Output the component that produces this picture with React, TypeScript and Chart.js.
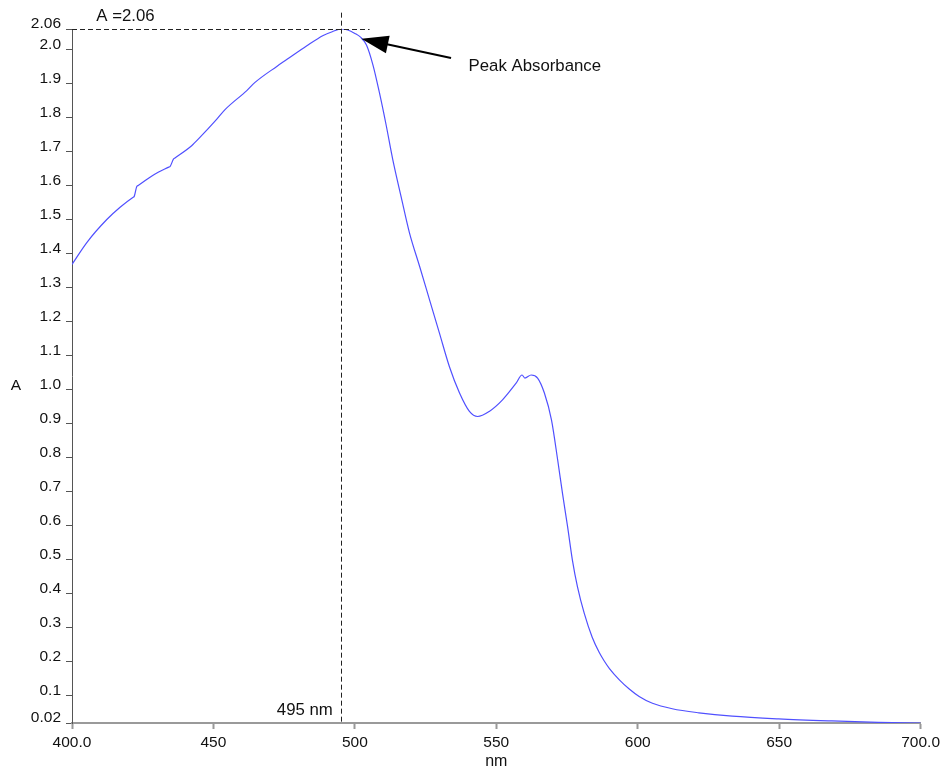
import React, { useEffect, useRef } from "react";
import { Chart, registerables } from "chart.js";

Chart.register(...registerables);

// Wavelength (nm) and absorbance (A)
const wavelengths = [
  400, 405.3, 412.3, 417.0, 421.5, 422.0, 422.9, 423.4, 428.8, 434.2, 434.7, 435.9, 436.4, 442.3, 445.3, 451.2, 454.1,
  461.8, 464.7, 472.4, 475.9, 482.9, 488.8, 492, 495.2,
  497.5, 500, 502, 504.1, 506.4, 508.7, 511, 513.4, 516.4, 519.3, 522.9, 526.4, 529.9,
  533.4, 537.0, 540.5, 543.4, 547.5, 552.2, 557.0, 559.1, 560.1, 562.3, 564.6, 567.0,
  569.5, 571.7, 573.4, 575.2, 576.9, 578.7, 581.1, 583.9, 586.4, 588.1, 590.0, 593.5, 597.0,
  600.5, 605.2, 612.2, 621.6, 633.4, 649.8, 668.6, 685, 700,
];
const absorbance = [
  1.368, 1.433, 1.500, 1.536, 1.565, 1.568, 1.597, 1.600, 1.631, 1.654, 1.656, 1.678, 1.681, 1.717, 1.742, 1.795, 1.823,
  1.879, 1.903, 1.950, 1.970, 2.010, 2.041, 2.052, 2.060,
  2.057, 2.047, 2.036, 2.013, 1.954, 1.872, 1.780, 1.676, 1.565, 1.461, 1.362, 1.264, 1.166,
  1.068, 0.990, 0.936, 0.921, 0.936, 0.970, 1.019, 1.043, 1.034, 1.043, 1.034, 0.990,
  0.911, 0.793, 0.695, 0.597, 0.499, 0.420, 0.342, 0.272, 0.227, 0.203, 0.180, 0.147, 0.120,
  0.098, 0.078, 0.062, 0.050, 0.040, 0.032, 0.026, 0.022, 0.020,
];

const xTicks = [400, 450, 500, 550, 600, 650, 700];
const xTickLabels = ["400.0", "450", "500", "550", "600", "650", "700.0"];
const yTicks = [0.02, 0.1, 0.2, 0.3, 0.4, 0.5, 0.6, 0.7, 0.8, 0.9, 1.0, 1.1, 1.2, 1.3, 1.4, 1.5, 1.6, 1.7, 1.8, 1.9, 2.0, 2.06];
const yTickLabels = ["0.02", "0.1", "0.2", "0.3", "0.4", "0.5", "0.6", "0.7", "0.8", "0.9", "1.0", "1.1", "1.2", "1.3", "1.4", "1.5", "1.6", "1.7", "1.8", "1.9", "2.0", "2.06"];

const peakNm = 495;
const peakA = 2.06;

const FONT = "'Liberation Sans', Arial, Helvetica, sans-serif";
const FS = 15.5;
const FS_NOTE = 16.8;

const annotationPlugin = {
  id: "annotations",
  afterDatasetsDraw(chart: any) {
    const ctx = chart.ctx as CanvasRenderingContext2D;
    const xs = chart.scales.x;
    const ys = chart.scales.y;
    const X = (v: number) => xs.getPixelForValue(v);
    const Y = (v: number) => ys.getPixelForValue(v);
    ctx.save();
    // dashed guides
    ctx.setLineDash([5, 3]);
    ctx.strokeStyle = "#222";
    ctx.lineWidth = 1;
    ctx.beginPath();
    ctx.moveTo(Math.round(X(peakNm)) + 0.5, Y(2.108));
    ctx.lineTo(Math.round(X(peakNm)) + 0.5, Y(0.02));
    ctx.stroke();
    ctx.beginPath();
    ctx.moveTo(chart.chartArea.left, Math.round(Y(peakA)) + 0.5);
    ctx.lineTo(X(505.2), Math.round(Y(peakA)) + 0.5);
    ctx.stroke();
    ctx.setLineDash([]);

    // texts
    ctx.fillStyle = "#111";
    ctx.font = `${FS_NOTE}px ${FONT}`;
    ctx.textBaseline = "middle";
    ctx.textAlign = "left";
    ctx.fillText("A =2.06", X(408.6), Y(2.097));
    ctx.textAlign = "right";
    ctx.fillText("495 nm", X(492.2), Y(0.057));
    ctx.textAlign = "left";
    ctx.fillText("Peak Absorbance", X(540.2), Y(1.95));
    ctx.font = `${FS}px ${FONT}`;
    ctx.textAlign = "center";
    ctx.fillText("A", 16, Y(1.0) - 4);

    // arrow
    const tipX = X(502.3), tipY = Y(2.031);
    const tailX = X(534.0), tailY = Y(1.975);
    const dx = tailX - tipX, dy = tailY - tipY;
    const len = Math.hypot(dx, dy);
    const ux = dx / len, uy = dy / len;
    const headLen = 27, halfW = 9;
    const bx = tipX + ux * headLen, by = tipY + uy * headLen;
    ctx.strokeStyle = "#000";
    ctx.lineWidth = 2;
    ctx.beginPath();
    ctx.moveTo(bx - ux * 2, by - uy * 2);
    ctx.lineTo(tailX, tailY);
    ctx.stroke();
    ctx.fillStyle = "#000";
    ctx.beginPath();
    ctx.moveTo(tipX, tipY);
    ctx.lineTo(bx - uy * halfW, by + ux * halfW);
    ctx.lineTo(bx + uy * halfW, by - ux * halfW);
    ctx.closePath();
    ctx.fill();
    ctx.restore();
  },
};

export default function App() {
  const ref = useRef<HTMLCanvasElement | null>(null);
  useEffect(() => {
    if (!ref.current) return;
    const data = wavelengths.map((w, i) => ({ x: w, y: absorbance[i] }));
    const chart = new Chart(ref.current, {
      type: "line",
      data: {
        datasets: [
          {
            data,
            borderColor: "#5050ff",
            borderWidth: 1.2,
            pointRadius: 0,
            tension: 0.4,
            cubicInterpolationMode: "monotone",
            fill: false,
          },
        ],
      },
      options: {
        animation: false,
        responsive: false,
        layout: { padding: { left: 0, right: 22, top: 29, bottom: 0 } },
        plugins: { legend: { display: false }, tooltip: { enabled: false } },
        scales: {
          x: {
            type: "linear",
            min: 400,
            max: 700,
            afterFit: (s: any) => { s.height = 48; },
            afterBuildTicks: (s: any) => { s.ticks = xTicks.map((v) => ({ value: v })); },
            ticks: {
              autoSkip: false,
              maxRotation: 0,
              padding: 4,
              color: "#111",
              font: { family: FONT, size: FS },
              callback: (v: any) => { const i = xTicks.indexOf(Number(v)); return i >= 0 ? xTickLabels[i] : ""; },
            },
            grid: { drawOnChartArea: false, drawTicks: true, tickLength: 6, tickColor: "#999", tickWidth: 2 },
            border: { display: true, color: "#9a9a9a", width: 2 },
            title: { display: true, text: "nm", color: "#111", font: { family: FONT, size: 16 }, padding: { top: 0, bottom: 0 } },
          },
          y: {
            type: "linear",
            min: 0.02,
            max: 2.06,
            afterFit: (s: any) => { s.width = 72; },
            afterBuildTicks: (s: any) => { s.ticks = yTicks.map((v) => ({ value: v })); },
            ticks: {
              autoSkip: false,
              padding: 5,
              color: "#111",
              font: { family: FONT, size: FS, lineHeight: 0.667 },
              callback: (v: any) => {
                const i = yTicks.findIndex((t) => Math.abs(t - Number(v)) < 1e-6);
                return i >= 0 ? [yTickLabels[i], ""] : "";
              },
            },
            grid: { drawOnChartArea: false, drawTicks: true, tickLength: 6, tickColor: "#555", tickWidth: 1 },
            border: { display: true, color: "#555", width: 1 },
          },
        },
      },
      plugins: [annotationPlugin],
    } as any);
    return () => chart.destroy();
  }, []);
  return (
    <div style={{ position: "fixed", left: 0, top: 0, width: 944, height: 771, background: "#fff" }}>
      <canvas ref={ref} width={944} height={771} style={{ display: "block" }} />
    </div>
  );
}
